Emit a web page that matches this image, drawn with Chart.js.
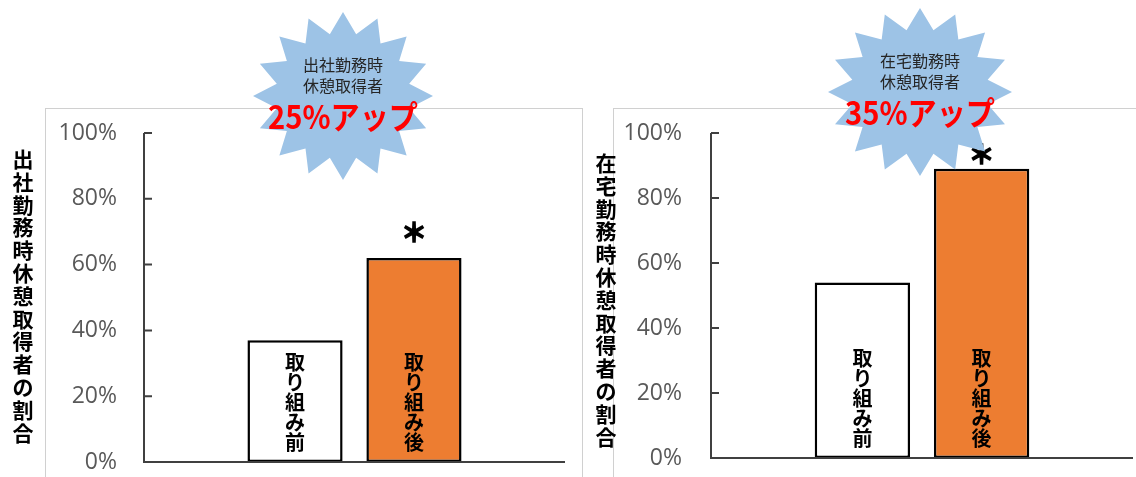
<!DOCTYPE html>
<html>
<head>
<meta charset="utf-8">
<script src="https://cdn.jsdelivr.net/npm/chart.js@4.4.1/dist/chart.umd.min.js"></script>
<style>
  html, body { margin: 0; padding: 0; background: #fff; }
  #wrap { position: relative; width: 1136px; height: 477px; overflow: hidden; }
  #officeChart { position: absolute; left: 0; top: 0; }
  #homeChart { position: absolute; left: 590px; top: 0; }
</style>
</head>
<body>
<div id="wrap">
  <canvas id="officeChart" width="590" height="477"></canvas>
  <canvas id="homeChart" width="546" height="477"></canvas>
</div>
<script>
// data
const phases = ['取り組み前', '取り組み後'];
const officeRates = [37, 62];
const homeRates = [54, 89];
const officeTitle = '出社勤務時休憩取得者の割合';
const homeTitle = '在宅勤務時休憩取得者の割合';
const officeBadge = ['出社勤務時', '休憩取得者', '25%アップ'];
const homeBadge = ['在宅勤務時', '休憩取得者', '35%アップ'];
const sigMark = '＊';

const barColors = ['#FFFFFF', '#ED7D31'];
const jpFont = '"Noto Sans CJK JP", "Noto Sans", sans-serif';
const axisColor = '#404040';

// little star shape used for the badge
function drawStar(ctx, cx, cy, rx, ry, points, inner) {
  ctx.beginPath();
  for (let i = 0; i < points * 2; i++) {
    const a = -Math.PI / 2 + i * Math.PI / points;
    const r = i % 2 === 0 ? 1 : inner;
    ctx.lineTo(cx + Math.cos(a) * rx * r, cy + Math.sin(a) * ry * r);
  }
  ctx.closePath();
  ctx.fillStyle = '#9DC3E6';
  ctx.fill();
}

function overlay(cfg) {
  return {
    id: 'overlay',
    beforeDraw(chart) {
      const ctx = chart.ctx;
      ctx.save();
      ctx.strokeStyle = '#D0D0D0';
      ctx.lineWidth = 1;
      ctx.strokeRect(cfg.box[0] + 0.5, cfg.box[1] + 0.5, cfg.box[2], cfg.box[3]);
      ctx.restore();
    },
    afterDraw(chart) {
      const ctx = chart.ctx;
      const y = chart.scales.y;
      const area = chart.chartArea;
      ctx.save();

      // axes with inward ticks
      ctx.strokeStyle = axisColor;
      ctx.lineWidth = 2;
      ctx.beginPath();
      ctx.moveTo(area.left, y.getPixelForValue(100));
      ctx.lineTo(area.left, y.getPixelForValue(0));
      ctx.lineTo(area.right, y.getPixelForValue(0));
      y.ticks.forEach(t => {
        const py = y.getPixelForValue(t.value);
        ctx.moveTo(area.left, py);
        ctx.lineTo(area.left + 8, py);
      });
      ctx.stroke();

      // vertical text inside the bars
      ctx.fillStyle = '#000';
      ctx.textAlign = 'center';
      ctx.textBaseline = 'middle';
      ctx.font = 'bold 20px ' + jpFont;
      chart.data.datasets.forEach((ds, i) => {
        const bar = chart.getDatasetMeta(i).data[0];
        const chars = [...ds.label];
        chars.forEach((c, k) => {
          ctx.fillText(c, bar.x, bar.base - 20 - (chars.length - 1 - k) * 20);
        });
      });

      // significance mark over the second bar
      const top = chart.getDatasetMeta(1).data[0];
      ctx.font = 'bold 26px ' + jpFont;
      ctx.strokeStyle = '#000';
      ctx.lineWidth = 1.5;
      ctx.fillText(sigMark, top.x, top.y - cfg.markGap);
      ctx.strokeText(sigMark, top.x, top.y - cfg.markGap);

      // vertical axis title
      ctx.font = 'bold 21px ' + jpFont;
      [...cfg.title].forEach((c, k) => {
        ctx.fillText(c, cfg.titleX, cfg.titleY + k * 22.8);
      });

      // badge
      const b = cfg.badge;
      drawStar(ctx, b.x, b.y, b.rx, b.ry, 16, 0.75);
      ctx.fillStyle = '#262626';
      ctx.font = '16px ' + jpFont;
      ctx.fillText(cfg.badgeText[0], b.x, b.y - 31);
      ctx.fillText(cfg.badgeText[1], b.x, b.y - 10);
      ctx.fillStyle = '#FF0000';
      ctx.font = 'bold 32px ' + jpFont;
      ctx.fillText(cfg.badgeText[2], b.x, b.y + 21, 150);

      ctx.restore();
    }
  };
}

function buildChart(id, rates, cfg) {
  return new Chart(document.getElementById(id), {
    type: 'bar',
    data: {
      labels: [''],
      datasets: phases.map((p, i) => ({
        label: p,
        data: [rates[i]],
        backgroundColor: barColors[i],
        borderColor: '#000',
        borderWidth: 2.5,
        borderSkipped: false,
        categoryPercentage: 0.565,
        barPercentage: 0.8
      }))
    },
    options: {
      responsive: false,
      animation: false,
      layout: { padding: cfg.padding },
      plugins: { legend: { display: false }, tooltip: { enabled: false } },
      scales: {
        x: {
          display: false
        },
        y: {
          min: 0,
          max: 100,
          grid: { display: false, drawTicks: false },
          border: { display: false },
          ticks: {
            stepSize: 20,
            padding: cfg.tickPad,
            color: '#595959',
            font: { family: '"Open Sans", "Noto Sans", sans-serif', size: 23 },
            callback: v => v + '%'
          },
          afterFit: s => {
            s.width = cfg.axisX;
            s.paddingTop = 0;
            s.paddingBottom = 0;
          }
        }
      }
    },
    plugins: [overlay(cfg)]
  });
}

buildChart('officeChart', officeRates, {
  padding: { left: 0, top: 133, right: 25, bottom: 15 },
  axisX: 144,
  tickPad: 27,
  box: [45, 108, 537, 400],
  title: officeTitle,
  titleX: 23,
  titleY: 159,
  markGap: 26,
  badge: { x: 343, y: 96, rx: 90, ry: 84 },
  badgeText: officeBadge
});

buildChart('homeChart', homeRates, {
  padding: { left: 0, top: 133, right: 3, bottom: 19 },
  axisX: 121,
  tickPad: 29,
  box: [23, 108, 600, 400],
  title: homeTitle,
  titleX: 16,
  titleY: 163,
  markGap: 15,
  badge: { x: 330, y: 92, rx: 92, ry: 84 },
  badgeText: homeBadge
});
</script>
</body>
</html>
